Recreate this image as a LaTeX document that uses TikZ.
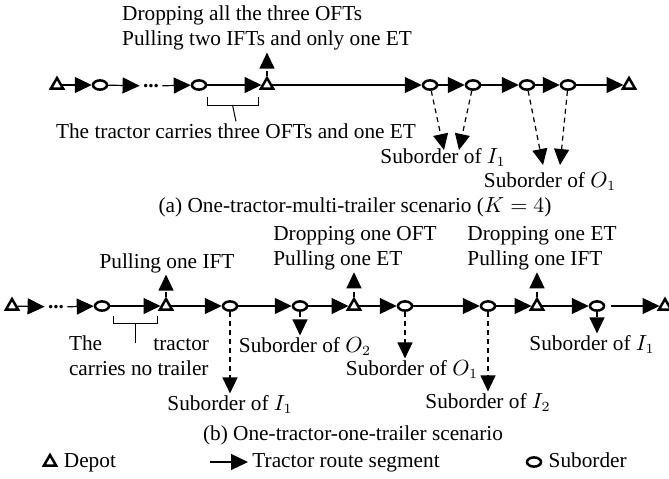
\documentclass[tikz,border=0pt]{standalone}
\usepackage{fontspec}
\setmainfont{Liberation Serif}
\usetikzlibrary{arrows.meta,positioning,shapes.geometric,calc}
\tikzset{
  font=\fontsize{10.65}{12.5}\selectfont,
  dep/.style={regular polygon, regular polygon sides=3, draw, line width=1.25pt, inner sep=0pt, minimum size=7pt},
  subo/.style={ellipse, draw, line width=1.25pt, inner sep=0pt, minimum width=7pt, minimum height=4.6pt},
  cont/.style={inner sep=1.5pt, font=\fontsize{10.65}{12.5}\selectfont\bfseries},
  txt/.style={align=left, inner sep=1pt},
  lbl/.style={inner sep=1pt, text height=1.6ex, text depth=0.4ex},
  rseg/.style={-{Triangle[length=8.5pt, width=8pt]}, line width=0.6pt},
  dflow/.style={-{Triangle[length=8pt, width=7.5pt]}, line width=0.6pt, dash pattern=on 2.5pt off 2pt},
  brk/.style={line width=0.5pt},
}
\begin{document}
\begin{tikzpicture}[x=0.5pt, y=-0.5pt]
\useasboundingbox (0,0) rectangle (669,478);
% (a)
\node[dep] (a0) at (57,85) {};
\node[subo] (a1) at (100,85) {};
\node[cont] (ad) at (151,86) {...};
\node[subo] (a2) at (199,85) {};
\node[dep] (a3) at (267,85) {};
\node[subo] (a4) at (430,85) {};
\node[subo] (a5) at (473,85) {};
\node[subo] (a6) at (527,85) {};
\node[subo] (a7) at (568,85) {};
\node[dep] (a8) at (629,85) {};
\draw[rseg](a0)--(a1);\draw[rseg](a1)--(ad);\draw[rseg](ad)--(a2);
\draw[rseg](a2)--(a3);\draw[rseg](a3)--(a4);\draw[rseg](a4)--(a5);
\draw[rseg](a5)--(a6);\draw[rseg](a6)--(a7);\draw[rseg](a7)--(a8);
\node[txt] (ta) at (267,28) {Dropping all the three OFTs\\Pulling two IFTs and only one ET};
\draw[dflow] (a3) -- (a3 |- ta.south);
\node[lbl] (tb) at (236,133) {The tractor carries three OFTs and one ET};
\coordinate (ab1) at (207,97);
\coordinate (ab2) at (258,97);
\draw[brk] (ab1) -- ++(0,8) -| (ab2);
\draw[brk] ($(ab1)!0.5!(ab2)+(0,8)$) -- (tb.north);
\node[lbl] (aI) at (443,158) {Suborder of $I_1$};
\node[lbl] (aO) at (550,182) {Suborder of $O_1$};
\coordinate (tI1) at (444,150);
\coordinate (tI2) at (459,150);
\coordinate (tO1) at (543,165);
\coordinate (tO2) at (560,165);
\draw[dflow](a4)--(tI1);\draw[dflow](a5)--(tI2);
\draw[dflow](a6)--(tO1);\draw[dflow](a7)--(tO2);
\node (capA) at (355,207) {(a) One-tractor-multi-trailer scenario ($K = 4$)};
% (b)
\node[dep] (b0) at (12,306) {};
\node[cont] (bd) at (56,307) {...};
\node[subo] (b1) at (102,306) {};
\node[dep] (b2) at (166,306) {};
\node[subo] (b3) at (230,306) {};
\node[subo] (b4) at (300,306) {};
\node[dep] (b5) at (354,306) {};
\node[subo] (b6) at (405,306) {};
\node[subo] (b7) at (488,306) {};
\node[dep] (b8) at (537,306) {};
\node[subo] (b9) at (597,306) {};
\node[dep] (b10) at (665,306) {};
\draw[rseg](b0)--(bd);\draw[rseg](bd)--(b1);\draw[rseg](b1)--(b2);
\draw[rseg](b2)--(b3);\draw[rseg](b3)--(b4);\draw[rseg](b4)--(b5);
\draw[rseg](b5)--(b6);\draw[rseg](b6)--(b7);\draw[rseg](b7)--(b8);
\draw[rseg](b8)--(b9);\draw[rseg, shorten <=3pt](b9)--(b10);
\node[lbl] (bP) at (167,263) {Pulling one IFT};
\node[txt] (bD1) at (355,248) {Dropping one OFT\\Pulling one ET};
\node[txt] (bD2) at (542,248) {Dropping one ET\\Pulling one IFT};
\draw[dflow] (b2) -- (b2 |- bP.south);
\draw[dflow] (b5) -- (b5 |- bD1.south);
\draw[dflow] (b8) -- (b8 |- bD2.south);
\node[txt] (bT) at (139,356) {\makebox[70pt][l]{The\hfill tractor}\\carries no trailer};
\coordinate (bb1) at (113,316);
\coordinate (bb2) at (157,316);
\coordinate (bst) at (135,343);
\draw[brk] (bb1) -- ++(0,7) -| (bb2);
\draw[brk] (bst |- bb1) ++(0,7) -- (bst);
\node[lbl] (bI1) at (230,405) {Suborder of $I_1$};
\node[lbl] (bO2) at (305,347) {Suborder of $O_2$};
\node[lbl] (bO1) at (412,370) {Suborder of $O_1$};
\node[lbl] (bI2) at (488,403) {Suborder of $I_2$};
\node[lbl] (bI1r) at (592,345) {Suborder of $I_1$};
\draw[dflow] (b3) -- (b3 |- bI1.north);
\draw[dflow] (b4) -- (b4 |- bO2.north);
\draw[dflow] (b6) -- (b6 |- bO1.north);
\draw[dflow] (b7) -- (b7 |- bI2.north);
\draw[dflow] (b9) -- (b9 |- bI1r.north);
\node (capB) at (353,435) {(b) One-tractor-one-trailer scenario};
% legend
\node[dep] (lg1) at (50,462) {};
\node[lbl, right=3pt of lg1] {Depot};
\coordinate (lg2a) at (210,462);
\coordinate (lg2b) at (248,462);
\draw[rseg] (lg2a) -- (lg2b);
\node[lbl, right=1pt of lg2b] {Tractor route segment};
\node[subo] (lg3) at (534,462) {};
\node[lbl, right=2pt of lg3] {Suborder};
\end{tikzpicture}
\end{document}
